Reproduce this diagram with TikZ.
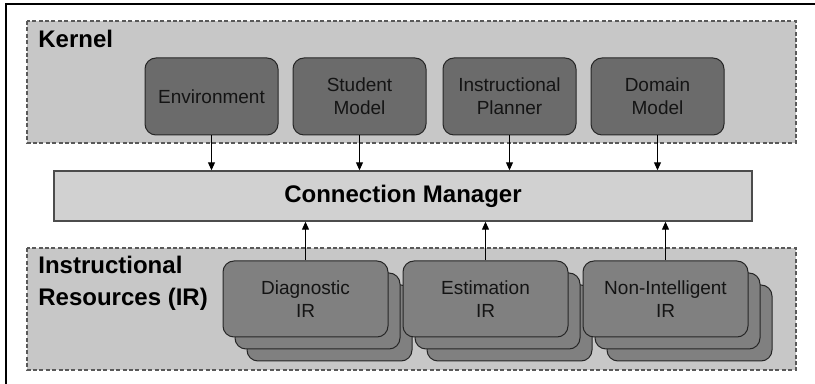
\documentclass[tikz,border=0pt]{standalone}
\usepackage{fontspec}
\setmainfont{Liberation Sans}
\usetikzlibrary{arrows.meta}
\newcommand{\boxfont}{\fontsize{9.5}{11.5}\selectfont}
\newcommand{\headfont}{\bfseries\fontsize{12}{16}\selectfont}
\begin{document}
\begin{tikzpicture}[x=0.5pt,y=-0.5pt,
    region/.style={draw=black!65,fill=black!22,dash pattern=on 2pt off 1.2pt,line width=0.7pt},
    module/.style={draw=black!85,fill=black!58,rounded corners=5.5pt,line width=0.5pt,
        minimum width=66.5pt,minimum height=38.5pt,align=center,font=\boxfont,text=black!92},
    resource/.style={module,fill=black!50,minimum width=82.5pt,minimum height=38pt},
    manager/.style={draw=black!70,fill=black!18,line width=0.7pt,
        minimum width=349pt,minimum height=25pt,font=\headfont},
    link/.style={-{Triangle[length=4pt,width=3.5pt]},line width=0.5pt}]
    \useasboundingbox (0,0) rectangle (815,384);
    \draw[line width=1pt] (6,384) -- (6,4) -- (815,4);
    % kernel
    \draw[region] (27,21) rectangle (796,143);
    \node[anchor=base west,inner sep=0pt,font=\headfont] (kernel) at (38,48) {Kernel};
    \foreach \name/\x/\txt in {env/211.5/Environment,student/359.5/{Student\\Model},
        planner/509.5/{Instructional\\Planner},domain/657.5/{Domain\\Model}}
        \node[module] (\name) at (\x,96.5) {\txt};
    \node[manager] (cm) at (403,196) {Connection Manager};
    \foreach \name in {env,student,planner,domain}
        \draw[link] (\name.south) -- (\name.south |- cm.north);
    % instructional resources
    \draw[region] (27,248) rectangle (796,370);
    \node[anchor=north west,inner sep=0pt,align=left,font=\headfont] (irlabel) at (38,256)
        {Instructional\\Resources (IR)};
    \foreach \name/\x/\txt in {diag/305.5/{Diagnostic\\IR},est/485.5/{Estimation\\IR},
        nonint/665.5/{Non-Intelligent\\IR}}
    {
        \node[resource] (\name c) at (\x+24,299+24) {};
        \node[resource] (\name b) at (\x+12,299+12) {};
        \node[resource] (\name) at (\x,299) {\txt};
        \draw[link] (\name.north) -- (\name.north |- cm.south);
    }
\end{tikzpicture}
\end{document}
